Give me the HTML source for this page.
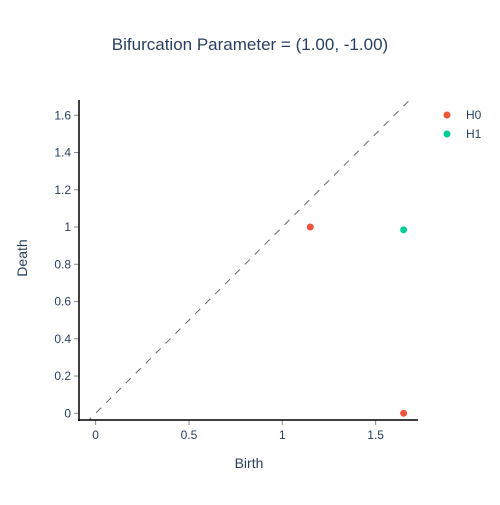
<!DOCTYPE html>
<html><head><meta charset="utf-8"><style>
body{margin:0;background:#fff;font-family:"Liberation Sans",sans-serif}
svg text{font-family:"Liberation Sans",sans-serif;fill:#2a3f5f}
</style></head><body>
<svg id="chart" width="500" height="500"></svg>
<script>
const h0Birth=[1.15,1.65];
const h0Death=[1.0,0.0];
const h1Birth=[1.65];
const h1Death=[0.985];
const xTicks=[0,0.5,1,1.5];
const xTickLabels=["0","0.5","1","1.5"];
const yTicks=[0,0.2,0.4,0.6,0.8,1,1.2,1.4,1.6];
const yTickLabels=["0","0.2","0.4","0.6","0.8","1","1.2","1.4","1.6"];
const diag=[-0.05,1.72];

const L=79,R=418,T=100,B=420;
const xMin=-0.089,xMax=1.727,yMin=-0.036,yMax=1.682;
const sx=v=>L+(v-xMin)/(xMax-xMin)*(R-L);
const sy=v=>B-(v-yMin)/(yMax-yMin)*(B-T);
const svg=document.getElementById('chart');
const NS='http://www.w3.org/2000/svg';
function mk(tag,attrs,parent){const e=document.createElementNS(NS,tag);for(const k in attrs)e.setAttribute(k,attrs[k]);(parent||svg).appendChild(e);return e;}

let t=mk('text',{x:250,y:50,'font-size':17,'text-anchor':'middle'});t.textContent='Bifurcation Parameter = (1.00, -1.00)';



const defs=mk('defs',{});const cp=mk('clipPath',{id:'c'},defs);mk('rect',{x:L,y:T,width:R-L,height:B-T},cp);

let d=mk('line',{x1:sx(diag[0]),y1:sy(diag[0]),x2:sx(diag[1]),y2:sy(diag[1]),stroke:'#666','stroke-width':1,'stroke-dasharray':'7,7','clip-path':'url(#c)'});



xTicks.forEach((v,i)=>{
  const tk=mk('line',{x1:sx(v),x2:sx(v),y1:B,y2:B+5,stroke:'#888','stroke-width':1});
  
  
  const l=mk('text',{x:sx(v),y:B+19,'font-size':12,'text-anchor':'middle'});l.textContent=xTickLabels[i];
  
  
});
yTicks.forEach((v,i)=>{
  const tk=mk('line',{x1:L-5,x2:L,y1:sy(v),y2:sy(v),stroke:'#888','stroke-width':1});
  
  
  const l=mk('text',{x:L-8,y:sy(v)+4,'font-size':12,'text-anchor':'end'});l.textContent=yTickLabels[i];
  
  
});
let ax=mk('line',{x1:L,x2:L,y1:T,y2:B+1,stroke:'#000','stroke-width':1.5});


ax=mk('line',{x1:L-1,x2:R,y1:B,y2:B,stroke:'#000','stroke-width':1.5});



let xt=mk('text',{x:249,y:468,'font-size':14,'text-anchor':'middle'});xt.textContent='Birth';


let yt=mk('text',{x:27,y:258,'font-size':14,'text-anchor':'middle',transform:'rotate(-90 27 258)'});yt.textContent='Death';



h0Birth.forEach((b,i)=>{
  const c=mk('circle',{cx:sx(b),cy:sy(h0Death[i]),r:3.5,fill:'#EF553B'});
  
  
});
h1Birth.forEach((b,i)=>{
  const c=mk('circle',{cx:sx(b),cy:sy(h1Death[i]),r:3.5,fill:'#00CC96'});
  
  
});

[['H0','#EF553B',115],['H1','#00CC96',134]].forEach(([n,col,y])=>{
  const g=mk('g',{});
  
  
  mk('circle',{cx:447,cy:y,r:3.5,fill:col},g);
  const tx=mk('text',{x:466,y:y+4,'font-size':12},g);tx.textContent=n;
});
</script>
</body></html>
